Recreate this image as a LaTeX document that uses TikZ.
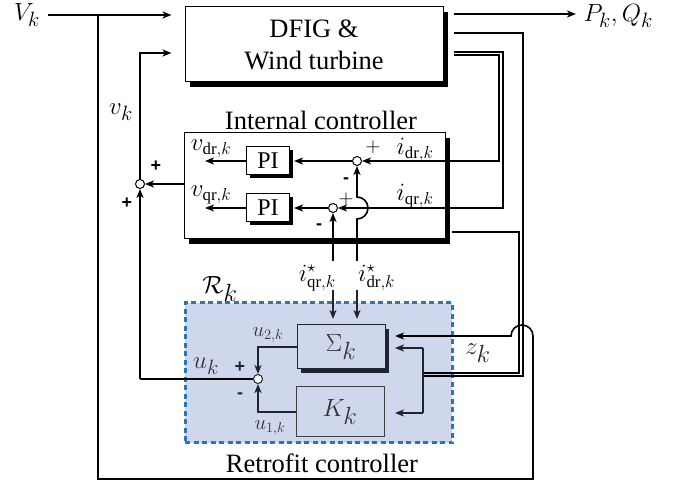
\documentclass[tikz,border=0pt]{standalone}
\usepackage{fontspec}
\setmainfont{Liberation Serif}
\newfontfamily\sgnfont{Liberation Sans}
\usetikzlibrary{arrows.meta,shadows}
\definecolor{retfill}{HTML}{CED7EB}
\definecolor{retedge}{HTML}{2E75B6}
\definecolor{dk}{HTML}{1E2430}
\begin{document}
\begin{tikzpicture}[x=1pt,y=-1pt,
  wire/.style={line width=1.6pt},
  dwire/.style={line width=1.2pt},
  arr/.style={-{Stealth[length=9pt,width=7pt,inset=2.5pt]}},
  big/.style={font=\fontsize{26.5}{32}\selectfont},
  lbl/.style={font=\fontsize{24}{24}\selectfont},
  slbl/.style={font=\fontsize{21}{21}\selectfont, text=black!80},
  blk/.style={draw,line width=1pt,fill=white,
    drop shadow={shadow xshift=5pt,shadow yshift=-5pt,fill=black,opacity=1}},
  piblk/.style={draw,line width=1pt,fill=white,minimum width=43pt,minimum height=28pt,
    inner sep=0pt,font=\fontsize{24}{24}\selectfont,
    drop shadow={shadow xshift=3pt,shadow yshift=-3pt,fill=black,opacity=1}},
  sum/.style={circle,draw,line width=1pt,inner sep=0pt,minimum size=9pt,fill=white},
  sgn/.style={font=\sgnfont\bfseries\fontsize{18}{18}\selectfont},
  tsgn/.style={font=\fontsize{21}{21}\selectfont}
]
\useasboundingbox (0,0) rectangle (681,489);

% retrofit area
\node[draw=retedge,fill=retfill,line width=3pt,dash pattern=on 5pt off 3.5pt,
  minimum width=267pt,minimum height=140pt,inner sep=0pt] (ret) at (318.5,373) {};
\node[font=\fontsize{42}{42}\selectfont] (Rk) at (220,289) {$\mathcal{R}_k$};
\node[big,anchor=base] (retlbl) at (322,472) {Retrofit controller};

% main blocks
\node[blk,minimum width=258pt,minimum height=75pt,align=center,big] (dfig) at (314,44.5) {DFIG \&\\Wind turbine};
\node[blk,minimum width=261pt,minimum height=106pt] (int) at (314.5,186) {};
\node[big,anchor=base] (intlbl) at (321,130) {Internal controller};
\node[piblk] (pi1) at (268,161) {PI};
\node[piblk] (pi2) at (268,208) {PI};

\node[draw=dk,fill=retfill,line width=1pt,minimum width=88pt,minimum height=44pt,
  font=\fontsize{37}{37}\selectfont,text=black!80,
  drop shadow={shadow xshift=4pt,shadow yshift=-4pt,fill=dk,opacity=1}] (sig) at (341,347) {$\Sigma_k$};
\node[draw=black!75,fill=retfill,line width=1pt,minimum width=88pt,minimum height=50pt,
  font=\fontsize{36}{36}\selectfont,text=black!80] (kk) at (340,412) {$K_k$};

% summing junctions
\node[sum] (sum1) at (357,161) {};
\node[sum] (sum2) at (333,208) {};
\node[sum] (sum3) at (140,184) {};
\node[sum,draw=dk] (sum4) at (258,379) {};

% labels
\node[font=\fontsize{28}{28}\selectfont] (Vk) at (27,15) {$V_k$};
\node[font=\fontsize{28}{28}\selectfont,anchor=west] (PQ) at (580,16) {$P_k,Q_k$};
\node[font=\fontsize{28}{28}\selectfont] (vk) at (121,112) {$v_k$};
\node[lbl] (vdr) at (211,149) {$v_{\mathrm{dr},k}$};
\node[lbl] (vqr) at (211,195) {$v_{\mathrm{qr},k}$};
\node[lbl] (idr) at (415,150) {$i_{\mathrm{dr},k}$};
\node[lbl] (iqr) at (415,196) {$i_{\mathrm{qr},k}$};
\node[lbl,inner sep=1pt,anchor=east] (isq) at (337,278) {$i^\star_{\mathrm{qr},k}$};
\node[lbl,inner sep=1pt,anchor=west] (isd) at (357,278) {$i^\star_{\mathrm{dr},k}$};
\node[slbl] (u2) at (268,335) {$u_{2,k}$};
\node[slbl] (u1) at (270,428) {$u_{1,k}$};
\node[font=\fontsize{29}{29}\selectfont,text=black!80] (uk) at (206,366) {$u_k$};
\node[font=\fontsize{38}{38}\selectfont,text=black!85] (zk) at (478,353) {$z_k$};

% signs
\node[tsgn] (p1) at (373,147) {$+$};
\node[sgn] (m1) at (346,181) {-};
\node[tsgn] (p2) at (346,199) {$+$};
\node[sgn] (m2) at (319,227) {-};
\node[sgn] (p3) at (156,166) {+};
\node[sgn] (p4) at (127,203) {+};
\node[sgn,text=dk] (p5) at (240,367) {+};
\node[sgn,text=dk] (m5) at (240,396) {-};

% coordinates
\coordinate (j1) at (98,15);
\coordinate (b1) at (98,479);
\coordinate (b2) at (533,479);
\coordinate (b3) at (533,336);
\coordinate (hp) at (395,336);
\coordinate (vkc) at (140,53);
\coordinate (o1) at (205,161);
\coordinate (o2) at (205,208);
\coordinate (zt) at (423,348);
\coordinate (zb) at (423,413);

% V_k input and loop to Sigma
\draw[wire,arr] ([xshift=4pt]Vk.east) -- ([xshift=-13pt]dfig.west |- Vk);
\draw[wire,arr] (j1) -- (b1) -- (b2) -- (b3)
  arc[start angle=0,end angle=180,radius=11pt] -- (hp);

% P,Q output
\draw[wire,arr] (454,14) coordinate (pqs) -- ([xshift=-4pt]PQ.west |- pqs);

% i_dr / i_qr feedback (double)
\draw[dwire,arr] (454,55) -- (499,55) -- (499,161) -- (sum1.east);
\draw[dwire,arr] (454,52) -- (503,52) -- (503,208) -- (sum2.east);

% outputs to z_k (double)
\draw[dwire] (454,33) -- (523,33) -- (523,376) -- (423,376);
\draw[dwire] (452,232) -- (519,232) -- (519,373) -- (423,373);
\draw[wire,dk,arr] (zt) -- (hp |- zt);
\draw[wire,dk] (zt) -- (zb);
\draw[wire,dk,arr] (zb) -- (hp |- zb);

% internal controller
\draw[wire,arr,shorten >=4pt] (sum1) -- (pi1.east);
\draw[wire,arr,shorten >=4pt] (sum2) -- (pi2.east);
\draw[wire,arr] (pi1.west) -- (o1);
\draw[wire,arr] (pi2.west) -- (o2);
\draw[wire,arr] (333,261) -- (sum2.south);
\draw[wire,arr] (357,261) -- (357,219) arc[start angle=-90,end angle=90,radius=11pt] -- (sum1.south);
\draw[wire,dk,arr] (333,290) -- (333,319);
\draw[wire,dk,arr] (357,290) -- (357,319);

% left summing junction
\draw[wire,arr] (int.west |- sum3) -- (sum3.east);
\draw[wire,arr] (sum3.north) -- (vkc) -- ([xshift=-13pt]dfig.west |- vkc);

% retrofit outputs
\draw[wire,dk,arr] (sig.west) -- (sig.west -| sum4) -- (sum4.north);
\draw[wire,dk,arr] (kk.west) -- (kk.west -| sum4) -- (sum4.south);
\draw[wire] (sum4.west) -- (140,379) coordinate (ukc);
\draw[wire,arr] (ukc) -- (sum3.south);
\end{tikzpicture}
\end{document}
